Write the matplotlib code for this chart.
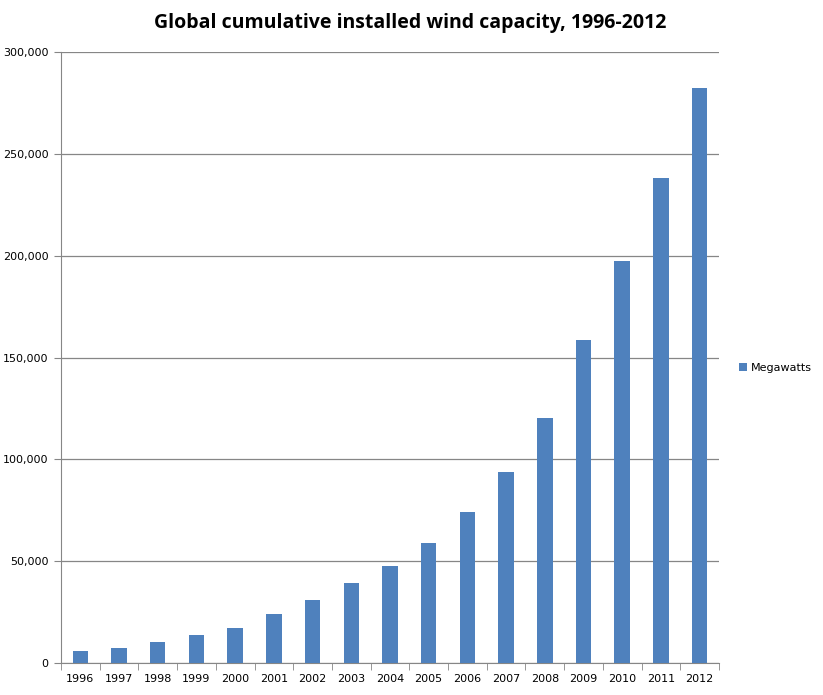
import numpy as np
import matplotlib.pyplot as plt
from matplotlib.ticker import FuncFormatter, MultipleLocator

years = ['1996', '1997', '1998', '1999', '2000', '2001', '2002', '2003', '2004',
         '2005', '2006', '2007', '2008', '2009', '2010', '2011', '2012']
megawatts = [6100, 7480, 10200, 13600, 17400, 23900, 31100, 39431, 47620,
             59091, 74052, 93820, 120291, 158864, 197637, 238035, 282482]

blue = '#4F81BD'
grey = '#868686'

fig = plt.figure(figsize=(8.23, 6.95), dpi=100)
ax = fig.add_axes([0.0741, 0.046, 0.7995, 0.879])

x = np.arange(len(years))
ax.bar(x, megawatts, width=0.4, color=blue, label='Megawatts', zorder=3)

ax.set_xlim(-0.5, len(years) - 0.5)
ax.set_ylim(0, 300000)
ax.yaxis.set_major_locator(MultipleLocator(50000))
ax.yaxis.set_major_formatter(FuncFormatter(lambda v, p: f'{int(v):,}'))
ax.grid(axis='y', color=grey, linewidth=0.9, zorder=0)

# category labels centered, tick marks between categories
ax.set_xticks(x)
ax.set_xticklabels(years, fontsize=8)
ax.set_xticks(np.arange(-0.5, len(years)), minor=True)
ax.tick_params(axis='x', which='major', length=0, pad=8)
ax.tick_params(axis='x', which='minor', length=5, color=grey)
ax.tick_params(axis='y', length=5, color=grey, labelsize=8, pad=4)

for s in ['top', 'right']:
    ax.spines[s].set_visible(False)
for s in ['left', 'bottom']:
    ax.spines[s].set_color(grey)

fig.suptitle('Global cumulative installed wind capacity, 1996-2012',
             x=0.498, y=0.982, fontsize=14, fontweight='bold', family='Open Sans')

ax.legend(loc='center left', bbox_to_anchor=(1.015, 0.483), frameon=False,
          fontsize=8, handlelength=0.7, handleheight=0.7, handletextpad=0.4)

fig.savefig('out.png', dpi=100)
